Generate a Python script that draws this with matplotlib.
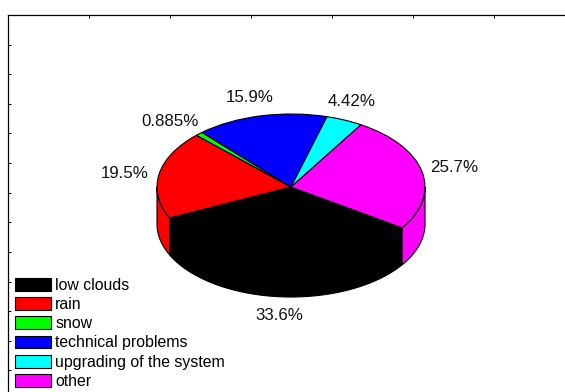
import numpy as np
import matplotlib
matplotlib.use("Agg")
import matplotlib.pyplot as plt
from matplotlib.patches import Patch, Polygon

plt.rcParams['font.family'] = ['Liberation Sans', 'DejaVu Sans']

categories = ["low clouds", "rain", "snow", "technical problems",
              "upgrading of the system", "other"]
shares = [33.6, 19.5, 0.885, 15.9, 4.42, 25.7]
share_labels = ["33.6%", "19.5%", "0.885%", "15.9%", "4.42%", "25.7%"]
colors = ["#000000", "#ff0000", "#00ff00", "#0000ff", "#00ffff", "#ff00ff"]

W, H = 565, 392
fig = plt.figure(figsize=(W / 100, H / 100), dpi=100)
fig.patch.set_facecolor("white")

# Box with short inward ticks; its right and bottom sides run off the canvas
frame = fig.add_axes([8 / W, (H - 15 - 385) / H, 567 / W, 385 / H])
frame.set_xlim(0, 7)
frame.set_ylim(13, 0)
frame.set_xticks(range(8))
frame.set_yticks(range(14))
frame.tick_params(direction="in", length=2, width=0.7, top=True, right=True,
                  labelleft=False, labelbottom=False)
for spine in frame.spines.values():
    spine.set_linewidth(0.9)

# Elliptical pie: the axes box is stretched so unit radius is 134 x 73 px
cx, cy, rx, ry = 291, 187, 134, 73
span = 1.25
pie_ax = fig.add_axes([(cx - span * rx) / W, (H - cy - span * ry) / H,
                       2 * span * rx / W, 2 * span * ry / H])
start = 326
wedges, _ = pie_ax.pie(shares, colors=colors, startangle=start, counterclock=False,
                       radius=1, wedgeprops=dict(edgecolor="black", linewidth=0.8))
pie_ax.set_aspect("auto")
pie_ax.set_xlim(-span, span)
pie_ax.set_ylim(-span, span)
for w in wedges:
    w.set_zorder(3)

# Side wall below the front half of the rim
depth = 37 / ry
fractions = np.array(shares) / np.sum(shares)
edges = start - 360 * np.concatenate([[0], np.cumsum(fractions)])
for a0, a1, col in zip(edges[:-1], edges[1:], colors):
    # Normalise to the visible front range, 180..360 degrees
    for shift in (0, 360):
        lo, hi = sorted((a0 + shift, a1 + shift))
        lo, hi = max(lo, 180), min(hi, 360)
        if hi <= lo:
            continue
        t = np.radians(np.linspace(lo, hi, 80))
        x, y = np.cos(t), np.sin(t)
        verts = np.r_[np.c_[x, y], np.c_[x[::-1], y[::-1] - depth]]
        pie_ax.add_patch(Polygon(verts, closed=True, facecolor=col, edgecolor="black",
                                 linewidth=0.8, zorder=2, clip_on=False))

# Percentage labels, placed by their pixel centres
label_centres = [(279, 315), (125, 173), (170, 121), (250, 98), (352, 102), (454, 168)]
for text, (px, py) in zip(share_labels, label_centres):
    fig.text(px / W, 1 - py / H, text, fontsize=12.2, color="#111111",
             ha="center", va="center")

handles = [Patch(facecolor=c, edgecolor="black", linewidth=0.8) for c in colors]
fig.legend(handles, categories, loc="lower left", bbox_to_anchor=(11 / W, -1 / H),
           frameon=False, fontsize=11.4, handlelength=2.25, handleheight=0.88,
           handletextpad=0.3, labelspacing=0.27, borderpad=0.25, borderaxespad=0)

fig.savefig("out.png", dpi=100)
